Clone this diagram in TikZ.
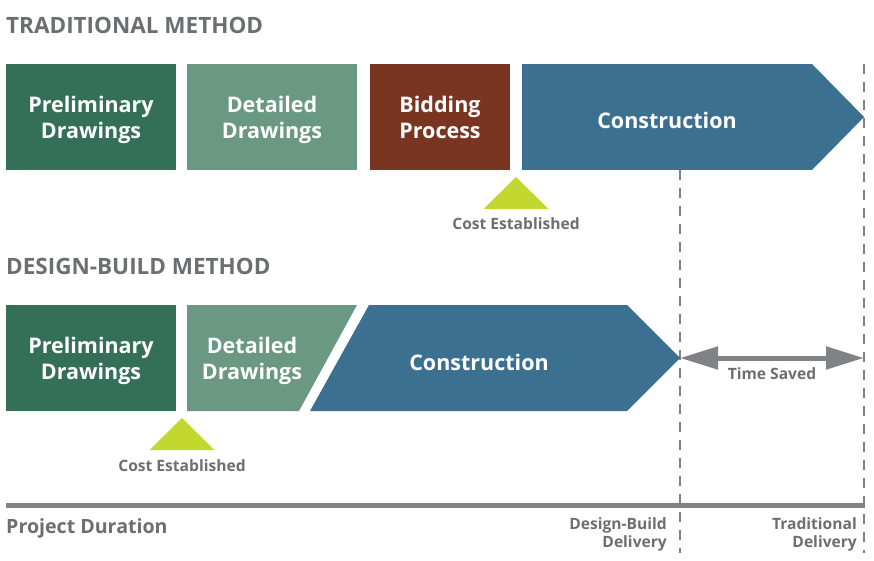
\documentclass[tikz,border=0pt]{standalone}
\usepackage{fontspec}
\setmainfont{Open Sans}
\usepackage{xcolor}
\usepackage{tikz}
\usetikzlibrary{positioning, arrows.meta}
\definecolor{PrelimGreen}{HTML}{347058}
\definecolor{DetailGreen}{HTML}{6A9883}
\definecolor{BidBrown}{HTML}{7A3522}
\definecolor{BuildBlue}{HTML}{3B7090}
\definecolor{CostLime}{HTML}{C3D82E}
\definecolor{LabelGrey}{HTML}{6D6E71}
\definecolor{LineGrey}{HTML}{808285}
\tikzset{
    phasebox/.style={
        rectangle, minimum height=106pt, inner sep=0pt, outer sep=0pt,
        text=white, align=center, font=\fontsize{21.5}{26}\selectfont\bfseries
    },
    phasetext/.style={
        text=white, align=center, font=\fontsize{21.5}{26}\selectfont\bfseries
    },
    methodtitle/.style={
        anchor=base west, inner sep=0pt, text=LabelGrey,
        font=\fontsize{22.5}{26}\selectfont\bfseries
    },
    smalllabel/.style={
        inner sep=0pt, text=LabelGrey, font=\fontsize{15.6}{18}\selectfont\bfseries
    }
}

\begin{document}
\begin{tikzpicture}[
            x=1pt, y=1pt,
            dashline/.style={LineGrey, line width=2pt, dash pattern=on 10pt off 8pt},
            savedarrow/.style={{Triangle[length=38pt, width=22pt]}-{Triangle[length=38pt, width=22pt]}, line width=5pt, LineGrey}
        ]
            \useasboundingbox (0,0) rectangle (874,560);

            % --- DUONG NET DUT ---
            \coordinate (dbTop) at (680,390);
            \coordinate (dbBot) at (680,7);
            \coordinate (trTop) at (864,496);
            \coordinate (trBot) at (864,7);
            \draw[dashline] (dbTop) -- (dbBot);
            \draw[dashline] (trTop) -- (trBot);

            % --- PHUONG PHAP TRUYEN THONG ---
            \node[methodtitle] (tTitle) at (6,526) {TRADITIONAL METHOD};

            \node[phasebox, fill=PrelimGreen, minimum width=170pt, anchor=north west] (tPre) at (6,496) {Preliminary\\\smash{Drawings}};
            \node[phasebox, fill=DetailGreen, minimum width=170pt, right=11pt of tPre] (tDet) {Detailed\\\smash{Drawings}};
            \node[phasebox, fill=BidBrown, minimum width=140pt, right=13pt of tDet] (tBid) {Bidding\\Process};
            \node[phasebox, fill=BuildBlue, minimum width=290pt, right=12pt of tBid] (tCon) {\raisebox{0pt}[23pt][0pt]{Construction}};
            \fill[BuildBlue] (tCon.north east) -- ([xshift=52pt]tCon.east) -- (tCon.south east) -- cycle;

            \coordinate (tCostTip) at (516,383);
            \fill[CostLime] (tCostTip) -- ++(-32.5,-32) -- ++(65,0) -- cycle;
            \node[smalllabel, anchor=base] (tCost) at (516,330) {Cost Established};

            % --- PHUONG PHAP THIET KE - THI CONG ---
            \node[methodtitle] (bTitle) at (6,285) {DESIGN-BUILD METHOD};

            \node[phasebox, fill=PrelimGreen, minimum width=170pt, anchor=north west] (bPre) at (6,255) {Preliminary\\\smash{Drawings}};
            \fill[DetailGreen] (187,149) -- (187,255) -- (357,255) -- (299,149) -- cycle;
            \node[phasetext] (bDet) at (252,202) {Detailed\\\smash{Drawings}};
            \fill[BuildBlue] (310,149) -- (369,255) -- (627,255) -- (680,202) -- (627,149) -- cycle;
            \node[phasetext] (bCon) at (479,198) {Construction};

            \coordinate (bCostTip) at (182,142);
            \fill[CostLime] (bCostTip) -- ++(-32.5,-32) -- ++(65,0) -- cycle;
            \node[smalllabel, anchor=base] (bCost) at (182,89) {Cost Established};

            % --- THOI GIAN TIET KIEM ---
            \coordinate (dbEnd) at (680,202);
            \coordinate (trEnd) at (864,202);
            \draw[savedarrow] (dbEnd) -- (trEnd);
            \node[smalllabel, anchor=base] (tSaved) at (772,181) {Time Saved};

            % --- TRUC THOI GIAN ---
            \coordinate (axStart) at (6,54.5);
            \coordinate (axEnd) at (865,54.5);
            \draw[LineGrey, line width=5pt] (axStart) -- (axEnd);
            \node[methodtitle, font=\fontsize{19.6}{22}\selectfont\bfseries] (duration) at (6,27) {Project Duration};
            \node[smalllabel, align=right, anchor=base east] (dbDel) at (667,13) {Design-Build\\Delivery};
            \node[smalllabel, align=right, anchor=base east] (trDel) at (857,13) {Traditional\\Delivery};

        \end{tikzpicture}
\end{document}
